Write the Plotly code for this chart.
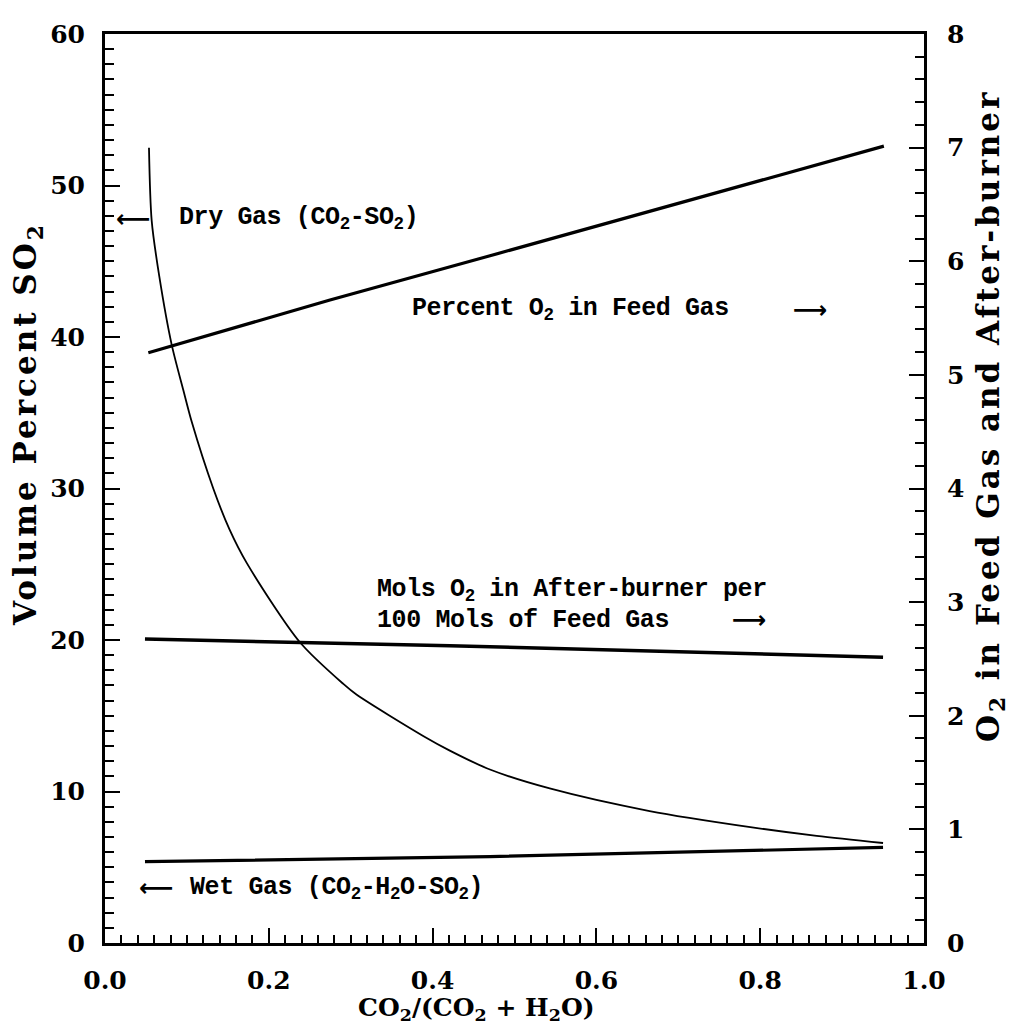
import plotly.graph_objects as go

# ---- data ----
dry_x = [0.0537, 0.057, 0.0663, 0.0814, 0.0956, 0.1059, 0.1322, 0.152, 0.173, 0.238, 0.291,
         0.307, 0.389, 0.421, 0.470, 0.543, 0.665, 0.788, 0.869, 0.950]
dry_y = [52.49, 47.68, 44.0, 39.50, 36.5, 34.4, 30.0, 27.3, 25.09, 19.85, 17.1,
         16.4, 13.65, 12.7, 11.45, 10.2, 8.71, 7.65, 7.07, 6.60]

wet_x = [0.0488, 0.421, 0.470, 0.950]
wet_y = [5.37, 5.65, 5.70, 6.31]

pct_o2_x = [0.0529, 0.2747, 0.469, 0.719, 0.951]
pct_o2_y = [5.194, 5.659, 6.046, 6.55, 7.013]

mols_o2_x = [0.0488, 0.421, 0.950]
mols_o2_y = [2.675, 2.617, 2.515]

x_ticks = [0.0, 0.2, 0.4, 0.6, 0.8, 1.0]
x_ticktext = ["0.0", "0.2", "0.4", "0.6", "0.8", "1.0"]
left_ticks = [0, 10, 20, 30, 40, 50, 60]
right_ticks = [0, 1, 2, 3, 4, 5, 6, 7, 8]

SERIF = "DejaVu Serif"
MONO = "Liberation Mono"

fig = go.Figure()
fig.add_trace(go.Scatter(x=dry_x, y=dry_y, mode="lines",
                         line=dict(color="black", width=1.8, shape="spline", smoothing=0.8),
                         name="Dry Gas", yaxis="y"))
fig.add_trace(go.Scatter(x=wet_x, y=wet_y, mode="lines", line=dict(color="black", width=3.2),
                         name="Wet Gas", yaxis="y"))
fig.add_trace(go.Scatter(x=pct_o2_x, y=pct_o2_y, mode="lines", line=dict(color="black", width=3.2),
                         name="Percent O2", yaxis="y2"))
fig.add_trace(go.Scatter(x=mols_o2_x, y=mols_o2_y, mode="lines", line=dict(color="black", width=3.5),
                         name="Mols O2", yaxis="y2"))

tickfont = dict(family=SERIF, size=25, color="black", weight="bold")
annfont = dict(family=MONO, size=25, color="black", weight="bold")
arrowfont = dict(family="DejaVu Sans", size=24, color="black", weight="bold")

# page body has an 8px margin: figure shifted accordingly
fig.update_layout(
    width=1006, height=1024,
    margin=dict(l=97, r=90, t=19, b=89),
    paper_bgcolor="white", plot_bgcolor="white",
    showlegend=False,
    xaxis=dict(range=[0, 1], tickvals=x_ticks, ticktext=x_ticktext,
               showgrid=False, zeroline=False, showline=True, linecolor="black", linewidth=3,
               mirror=True, ticks="inside", ticklen=15, tickwidth=2, tickcolor="black",
               minor=dict(dtick=0.02, ticks="inside", ticklen=8, tickwidth=1.5, tickcolor="black", showgrid=False),
               tickfont=tickfont, ticklabelstandoff=13),
    yaxis=dict(range=[0, 60], tickvals=left_ticks,
               showgrid=False, zeroline=False, showline=True, linecolor="black", linewidth=3,
               ticks="inside", ticklen=15, tickwidth=2, tickcolor="black",
               minor=dict(dtick=1, ticks="inside", ticklen=9, tickwidth=2, tickcolor="black", showgrid=False),
               tickfont=tickfont, ticklabelstandoff=12),
    yaxis2=dict(range=[0, 8], tickvals=right_ticks, overlaying="y", side="right",
                showgrid=False, zeroline=False, showline=True, linecolor="black", linewidth=3,
                ticks="inside", ticklen=15, tickwidth=2, tickcolor="black",
                minor=dict(dtick=0.2, ticks="inside", ticklen=9, tickwidth=2, tickcolor="black", showgrid=False),
                tickfont=tickfont, ticklabelstandoff=15),
)

def sp(t):
    return '<span style="letter-spacing:-0.4px">' + t + '</span>'

anns = [
    dict(x=0.0342, y=47.8, text="⟵", font=arrowfont, xanchor="center"),
    dict(x=0.0875, y=47.8, text=sp("Dry Gas (CO<sub>2</sub>-SO<sub>2</sub>)"), font=annfont, xanchor="left"),
    dict(x=0.372, y=41.79, text=sp("Percent O<sub>2</sub> in Feed Gas"), font=annfont, xanchor="left"),
    dict(x=0.861, y=41.79, text="⟶", font=arrowfont, xanchor="center"),
    dict(x=0.3297, y=23.25, text=sp("Mols O<sub>2</sub> in After-burner per"), font=annfont, xanchor="left"),
    dict(x=0.3297, y=21.3, text=sp("100 Mols of Feed Gas"), font=annfont, xanchor="left"),
    dict(x=0.786, y=21.3, text="⟶", font=arrowfont, xanchor="center"),
    dict(x=0.0623, y=3.60, text="⟵", font=arrowfont, xanchor="center"),
    dict(x=0.1013, y=3.60, text=sp("Wet Gas (CO<sub>2</sub>-H<sub>2</sub>O-SO<sub>2</sub>)"), font=annfont, xanchor="left"),
]
for a in anns:
    a.update(xref="x", yref="y", showarrow=False, yanchor="middle")
    fig.add_annotation(**a)

titlefont = dict(family=SERIF, size=31, color="black", weight="bold")
fig.add_annotation(xref="paper", yref="paper", x=(476 - 105) / 819, y=(943 - 1010) / 916,
                   text="CO<sub>2</sub>/(CO<sub>2</sub> + H<sub>2</sub>O)", showarrow=False,
                   font=dict(family=SERIF, size=25, color="black", weight="bold"),
                   xanchor="center", yanchor="middle")
fig.add_annotation(xref="paper", yref="paper", x=(28 - 105) / 819, y=(943 - 420) / 916,
                   text='<span style="letter-spacing:3px">Volume Percent SO<sub>2</sub></span>',
                   showarrow=False, textangle=-90,
                   font=titlefont, xanchor="center", yanchor="middle")
fig.add_annotation(xref="paper", yref="paper", x=(990 - 105) / 819, y=(943 - 412) / 916,
                   text='<span style="letter-spacing:3px">O<sub>2</sub> in Feed Gas and After-burner</span>',
                   showarrow=False, textangle=-90,
                   font=titlefont, xanchor="center", yanchor="middle")

fig.write_html("out.html")
